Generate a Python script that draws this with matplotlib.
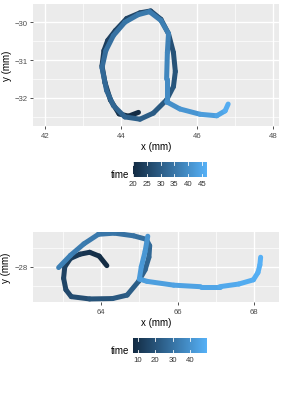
import numpy as np
import matplotlib
matplotlib.use("Agg")
import matplotlib.pyplot as plt
from matplotlib.collections import LineCollection
from matplotlib.colors import LinearSegmentedColormap, Normalize

plt.rcParams['font.family'] = ['Liberation Sans', 'DejaVu Sans']

# --- top trace (one stroke) ---
top_x = [44.46, 44.2, 43.95, 43.72, 43.58, 43.5, 43.55, 43.65, 43.85, 44.15, 44.5, 44.78,
         45.05, 45.25, 45.38, 45.43, 45.38, 45.2, 44.85, 44.5, 44.1, 43.8, 43.62, 43.5,
         43.6, 43.8, 44.1, 44.45, 44.75, 45.05, 45.25, 45.22, 45.2, 45.2, 45.55, 46.08,
         46.52, 46.74, 46.82]
top_y = [-32.38, -32.48, -32.42, -32.05, -31.6, -31.15, -30.75, -30.48, -30.22, -29.9, -29.75, -29.7,
         -29.92, -30.3, -30.8, -31.3, -31.7, -32.05, -32.4, -32.56, -32.5, -32.2, -31.8, -31.2,
         -30.75, -30.35, -30.0, -29.8, -29.72, -29.95, -30.3, -30.8, -31.5, -32.1, -32.29, -32.43,
         -32.47, -32.34, -32.16]
top_t = [20, 20.5, 21, 21.7, 22.3, 23, 23.5, 24, 24.5, 25, 25.5, 26,
         26.5, 27, 27.5, 28, 28.5, 29, 29.7, 30.3, 31, 31.5, 32, 32.7,
         33.3, 34, 34.6, 35.2, 35.8, 36.4, 37, 37.8, 38.6, 39.4, 40.5, 42,
         43.5, 44.8, 46.8]
top_ticks = [20, 25, 30, 35, 40, 45]

# --- bottom trace (two strokes) ---
bot1_x = [64.15, 63.95, 63.7, 63.45, 63.2, 63.05, 63.02, 63.08, 63.22, 63.7, 64.3, 64.68,
          64.98, 65.15, 65.25, 65.27, 65.18, 64.85, 64.35, 63.93, 63.55, 63.2, 62.89]
bot1_y = [-27.97, -27.72, -27.62, -27.67, -27.78, -28.0, -28.3, -28.6, -28.78, -28.84, -28.83, -28.74,
          -28.38, -28.08, -27.75, -27.45, -27.28, -27.19, -27.12, -27.15, -27.4, -27.7, -28.02]
bot1_t = [7.1, 8, 9.5, 11, 12.5, 14, 15, 16, 17, 19, 21, 22.5,
          24, 25, 26, 27, 28, 29, 30.5, 31.5, 32.5, 33.5, 34.5]
bot2_x = [65.22, 65.15, 65.05, 65.0, 65.2, 65.9, 66.6, 67.1, 67.6, 67.98, 68.1, 68.15, 68.17]
bot2_y = [-27.2, -27.6, -28.0, -28.32, -28.38, -28.48, -28.52, -28.52, -28.45, -28.34, -28.15, -27.95, -27.75]
bot2_t = [40, 41, 42, 43, 43.5, 44.5, 45.5, 46.5, 47.5, 48.3, 48.8, 49.2, 49.7]
bot_ticks = [10, 20, 30, 40]

cmap = LinearSegmentedColormap.from_list('gg', ['#132B43', '#56B1F7'])

W, H = 288, 402
fig = plt.figure(figsize=(W / 100, H / 100), dpi=100)


def fx(px):
    return px / W


def fy(py):
    return 1 - py / H


def add_stroke(ax, xs, ys, ts, norm):
    pts = np.column_stack([xs, ys]).reshape(-1, 1, 2)
    segs = np.concatenate([pts[:-1], pts[1:]], axis=1)
    tv = np.array(ts)
    lc = LineCollection(segs, cmap=cmap, norm=norm, linewidths=3.6,
                        capstyle='round', joinstyle='round')
    lc.set_array((tv[:-1] + tv[1:]) / 2)
    ax.add_collection(lc)


def style_panel(ax, xlim, ylim, xmaj, xmin, ymaj, ymin):
    ax.set_facecolor('#EBEBEB')
    for s in ax.spines.values():
        s.set_visible(False)
    ax.set_xlim(*xlim)
    ax.set_ylim(*ylim)
    ax.set_xticks(xmaj)
    ax.set_xticks(xmin, minor=True)
    ax.set_yticks(ymaj)
    ax.set_yticks(ymin, minor=True)
    ax.grid(True, which='major', color='white', lw=1.0)
    ax.grid(True, which='minor', color='white', lw=0.5)
    ax.set_axisbelow(True)
    ax.tick_params(which='major', length=2.5, width=0.6, color='#333333',
                   labelsize=5.6, labelcolor='#4D4D4D', pad=1.5)
    ax.tick_params(which='minor', length=0)
    ax.set_xlabel('x (mm)', fontsize=7, labelpad=1.5)
    ax.set_ylabel('y (mm)', fontsize=7, labelpad=2)


def add_legend(x0, x1, y0, y1, vmin, vmax, ticks):
    cax = fig.add_axes([fx(x0), fy(y1), fx(x1) - fx(x0), (y1 - y0) / H])
    grad = np.linspace(vmin, vmax, 256).reshape(1, -1)
    cax.imshow(grad, cmap=cmap, aspect='auto', extent=[vmin, vmax, 0, 1])
    for t in ticks:
        cax.plot([t, t], [0, 0.2], color='white', lw=0.6)
        cax.plot([t, t], [0.8, 1], color='white', lw=0.6)
    cax.set_xlim(vmin, vmax)
    cax.set_ylim(0, 1)
    cax.set_xticks(ticks)
    cax.set_yticks([])
    cax.tick_params(length=0, labelsize=5.6, labelcolor='#333333', pad=2)
    for s in cax.spines.values():
        s.set_visible(False)
    fig.text(fx(x0 - 4), fy((y0 + y1) / 2 + 5), 'time', fontsize=7, ha='right', va='center')


# top panel
ax1 = fig.add_axes([fx(33), fy(127), fx(279) - fx(33), (127 - 5) / H])
style_panel(ax1, (41.684, 48.158), (-32.74, -29.517),
            [42, 44, 46, 48], [43, 45, 47], [-30, -31, -32], [-30.5, -31.5, -32.5])
norm1 = Normalize(20, 46.8)
add_stroke(ax1, top_x, top_y, top_t, norm1)
add_legend(133, 207, 163, 178, 20, 46.8, top_ticks)

# bottom panel
ax2 = fig.add_axes([fx(33), fy(303), fx(279) - fx(33), (303 - 233) / H])
style_panel(ax2, (62.22, 68.65), (-28.92, -27.09),
            [64, 66, 68], [63, 65, 67], [-28], [-27.5, -28.5])
norm2 = Normalize(7.1, 49.7)
add_stroke(ax2, bot1_x, bot1_y, bot1_t, norm2)
add_stroke(ax2, bot2_x, bot2_y, bot2_t, norm2)
add_legend(133, 207, 339, 354, 7.1, 49.7, bot_ticks)

fig.savefig('out.png', dpi=100)
